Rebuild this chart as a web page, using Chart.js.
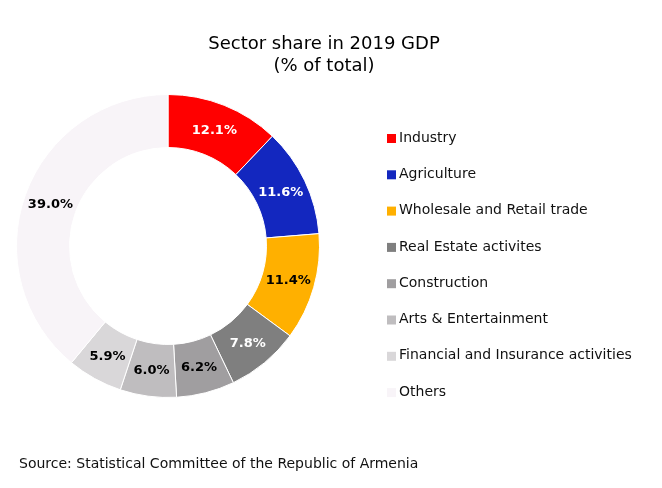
<!DOCTYPE html>
<html>
<head>
<meta charset="utf-8">
<script src="https://cdn.jsdelivr.net/npm/chart.js@4.4.1/dist/chart.umd.min.js"></script>
<style>
  html, body { margin: 0; padding: 0; background: #fff; }
  canvas { display: block; }
</style>
</head>
<body>
<canvas id="gdpChart" width="662" height="488"></canvas>
<script>
"use strict";

// data
const sectors = [
  "Industry",
  "Agriculture",
  "Wholesale and Retail trade",
  "Real Estate activites",
  "Construction",
  "Arts & Entertainment",
  "Financial and Insurance activities",
  "Others",
];
const shares = [12.1, 11.6, 11.4, 7.8, 6.2, 6.0, 5.9, 39.0];
const sectorColors = ["#ff0000", "#1327bf", "#ffb000", "#7f7f7f", "#a09ea0", "#bfbdbf", "#d9d7d9", "#f8f4f8"];
const valueColors = ["#fff", "#fff", "#000", "#fff", "#000", "#000", "#000", "#000"];
const titleLines = ["Sector share in 2019 GDP", "(% of total)"];
const sourceNote = "Source: Statistical Committee of the Republic of Armenia";

const FONT = "'DejaVu Sans', Verdana, sans-serif";

// value labels in the middle of every ring slice
const sliceLabels = {
  id: "sliceLabels",
  afterDatasetsDraw(chart) {
    const { ctx } = chart;
    const meta = chart.getDatasetMeta(0);
    ctx.save();
    ctx.font = `bold 13px ${FONT}`;
    ctx.textAlign = "center";
    ctx.textBaseline = "middle";
    meta.data.forEach((arc, i) => {
      const { x, y } = arc.tooltipPosition();
      ctx.fillStyle = valueColors[i];
      ctx.fillText(shares[i].toFixed(1) + "%", x, y + 1);
    });
    ctx.restore();
  },
};

// title, legend on the right and source line
const pageText = {
  id: "pageText",
  afterDraw(chart) {
    const { ctx } = chart;
    ctx.save();
    ctx.fillStyle = "#000";
    ctx.textBaseline = "middle";

    ctx.textAlign = "center";
    ctx.font = `18px ${FONT}`;
    ctx.fillText(titleLines[0], 324, 44);
    ctx.fillText(titleLines[1], 324, 66);

    ctx.textAlign = "left";
    ctx.font = `14px ${FONT}`;
    const items = chart.options.plugins.legend.labels.generateLabels(chart);
    items.forEach((item, i) => {
      const y = 138 + i * 36.3;
      ctx.fillStyle = item.fillStyle;
      ctx.fillRect(387, y - 4, 9, 9);
      ctx.fillStyle = "#111";
      ctx.fillText(item.text, 399, y);
    });

    ctx.font = `14px ${FONT}`;
    ctx.fillStyle = "#111";
    ctx.fillText(sourceNote, 19, 464);
    ctx.restore();
  },
};

new Chart(document.getElementById("gdpChart"), {
  type: "doughnut",
  data: {
    labels: sectors,
    datasets: [
      {
        data: shares,
        backgroundColor: sectorColors,
        borderColor: "#ffffff",
        borderWidth: 1,
      },
    ],
  },
  options: {
    responsive: false,
    animation: false,
    cutout: "65%",
    layout: { padding: { left: 16, top: 94, right: 342, bottom: 90 } },
    plugins: {
      legend: { display: false },
      tooltip: { enabled: false },
    },
  },
  plugins: [sliceLabels, pageText],
});
</script>
</body>
</html>
